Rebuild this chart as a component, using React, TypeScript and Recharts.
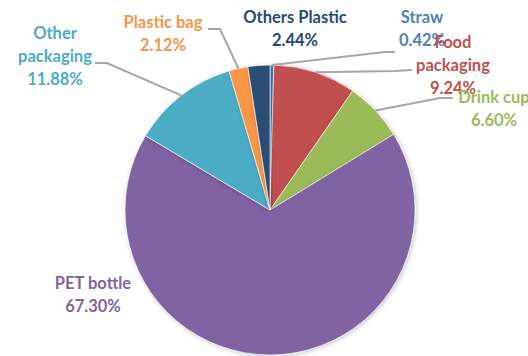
import { Cell, Pie, PieChart } from "recharts";

const CATEGORIES = ["Straw", "Food packaging", "Drink cup", "PET bottle", "Other packaging", "Plastic bag", "Others Plastic"];
const SHARES = [0.42, 9.24, 6.6, 67.3, 11.88, 2.12, 2.44];
// label text broken into lines as in the original
const LABEL_LINES = [["Straw"], ["Food", "packaging"], ["Drink cup"], ["PET bottle"], ["Other", "packaging"], ["Plastic bag"], ["Others Plastic"]];

const COLORS = ["#4F81BD", "#C0504D", "#9BBB59", "#8064A2", "#4BACC6", "#F79646", "#2C4D75"];
const TEXT_COLORS = ["#4F81BD", "#C0504D", "#9BBB59", "#8064A2", "#4BACC6", "#F79646", "#1F497D"];

// label placement, offsets from the pie centre; elbow/end describe the leader line
const LAYOUT: { dx: number; dy: number; line?: [number, number, number, number] }[] = [
  { dx: 152, dy: -193, line: [115, -158, 125, -158] },
  { dx: 183, dy: -168, line: [125, -139, 142, -140] },
  { dx: 224, dy: -113, line: [170, -112, 183, -112] },
  { dx: -177, dy: 73 },
  { dx: -215, dy: -177, line: [-163, -147, -175, -147] },
  { dx: -107, dy: -188, line: [-50, -181, -62, -181] },
  { dx: 25, dy: -193 },
];

const DATA = CATEGORIES.map((name, i) => ({ name, value: SHARES[i] }));

const RAD = Math.PI / 180;
const LINE_H = 23;

function renderLabel(props: any) {
  const { cx, cy, midAngle, outerRadius, index } = props;
  const lay = LAYOUT[index];
  const lines = [...LABEL_LINES[index], SHARES[index].toFixed(2) + "%"];
  const ax = cx + outerRadius * Math.cos(-midAngle * RAD);
  const ay = cy + outerRadius * Math.sin(-midAngle * RAD);
  const tx = cx + lay.dx;
  const ty = cy + lay.dy;
  return (
    <g key={"lbl" + index}>
      {lay.line && (
        <polyline
          points={`${ax},${ay} ${cx + lay.line[0]},${cy + lay.line[1]} ${cx + lay.line[2]},${cy + lay.line[3]}`}
          fill="none"
          stroke="#A6A6A6"
          strokeWidth={2}
        />
      )}
      <text
        x={tx}
        y={ty}
        textAnchor="middle"
        fill={TEXT_COLORS[index]}
        fontFamily="Lato, 'Open Sans', sans-serif"
        fontWeight="bold"
        fontSize={16.5}
      >
        {lines.map((t, k) => (
          <tspan key={k} x={tx} y={ty + k * LINE_H} dominantBaseline="central">
            {t}
          </tspan>
        ))}
      </text>
    </g>
  );
}

export default function App() {
  return (
    <div style={{ position: "absolute", left: 0, top: 0, width: 528, height: 356, background: "#fff" }}>
      <PieChart width={528} height={356} margin={{ top: 0, right: 0, bottom: 0, left: 0 }}>
        <defs>
          <filter id="shadow" x="-10%" y="-10%" width="120%" height="120%">
            <feDropShadow dx="1" dy="1" stdDeviation="2" floodColor="#000" floodOpacity="0.25" />
          </filter>
        </defs>
        <Pie
          data={DATA}
          dataKey="value"
          nameKey="name"
          cx={270}
          cy={210}
          outerRadius={145}
          startAngle={90}
          endAngle={-270}
          stroke="#fff"
          strokeWidth={0.6}
          label={renderLabel}
          labelLine={false}
          isAnimationActive={false}
          style={{ filter: "url(#shadow)" }}
        >
          {DATA.map((d, i) => (
            <Cell key={d.name} fill={COLORS[i]} />
          ))}
        </Pie>
      </PieChart>
    </div>
  );
}
